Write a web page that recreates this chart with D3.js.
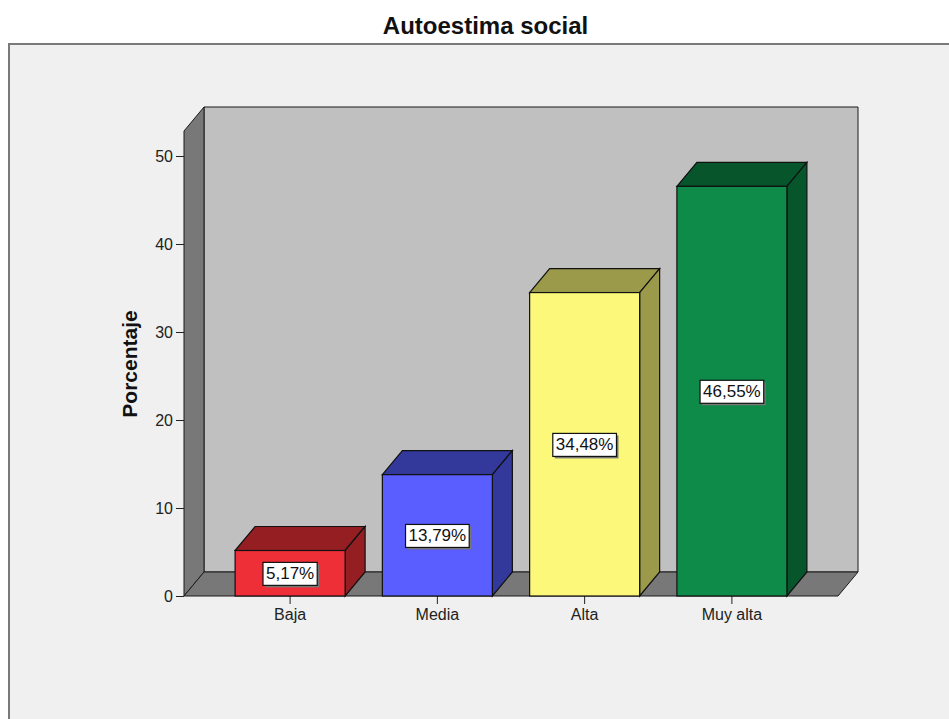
<!DOCTYPE html>
<html>
<head>
<meta charset="utf-8">
<script src="https://cdn.jsdelivr.net/npm/d3@7"></script>
<style>
html,body{margin:0;padding:0;background:#fff;}
svg{display:block;font-family:"Liberation Sans",Arial,sans-serif;}
</style>
</head>
<body>
<svg id="chart" width="949" height="719"></svg>
<script>
const categories = ["Baja", "Media", "Alta", "Muy alta"];
const values = [5.17, 13.79, 34.48, 46.55];
const valueLabels = ["5,17%", "13,79%", "34,48%", "46,55%"];
const frontColors = ["#ef2f38", "#5a5efe", "#fcf879", "#0e8b48"];
const sideColors = ["#951e23", "#33389b", "#9b994a", "#07562b"];
const yTicks = [0, 10, 20, 30, 40, 50];
const title = "Autoestima social";
const yTitle = "Porcentaje";

const svg = d3.select("#chart");
const W = 949, H = 719;
const dx = 20, dy = -24;

// panel
svg.append("rect").attr("x", 9).attr("y", 44).attr("width", W).attr("height", H)
  .attr("fill", "#f0f0f0");
svg.append("path").attr("d", `M9,${H} L9,44 L${W},44`).attr("fill", "none")
  .attr("stroke", "#7a7a7a").attr("stroke-width", 2);

svg.append("text").attr("x", 485.5).attr("y", 34).attr("text-anchor", "middle")
  .attr("font-weight", "bold").attr("font-size", 24).attr("fill", "#111").text(title);

const y = d3.scaleLinear().domain([0, 52.84]).range([596, 131]);
const x = d3.scaleBand().domain(categories).range([184, 838])
  .paddingInner(0.253).paddingOuter(0.347);

const x0 = x.range()[0], x1 = x.range()[1];
const yb = y(0), yt = y(y.domain()[1]);
const pts = a => a.map(p => p.join(",")).join(" ");

// back wall
svg.append("polygon").attr("points", pts([[x0+dx, yt+dy],[x1+dx, yt+dy],[x1+dx, yb+dy],[x0+dx, yb+dy]]))
  .attr("fill", "#c0c0c0").attr("stroke", "#1a1a1a").attr("stroke-width", 1);
// left wall
svg.append("polygon").attr("points", pts([[x0, yt],[x0+dx, yt+dy],[x0+dx, yb+dy],[x0, yb]]))
  .attr("fill", "#787878").attr("stroke", "#1a1a1a").attr("stroke-width", 1);
// floor
svg.append("polygon").attr("points", pts([[x0, yb],[x0+dx, yb+dy],[x1+dx, yb+dy],[x1, yb]]))
  .attr("fill", "#787878").attr("stroke", "#1a1a1a").attr("stroke-width", 1);

// y axis
const yAxis = d3.axisLeft(y).tickValues(yTicks).tickSize(8).tickPadding(3).tickFormat(d3.format("d"));
const ya = svg.append("g").attr("transform", `translate(${x0},0)`).call(yAxis);
ya.select(".domain").remove();
ya.selectAll("line").attr("stroke", "#222");
ya.selectAll("text").attr("font-size", 16).attr("fill", "#222").attr("font-family", "Liberation Sans, Arial, sans-serif");

// x axis
const xAxis = d3.axisBottom(x).tickSize(8).tickPadding(5);
const xa = svg.append("g").attr("transform", `translate(0,${yb})`).call(xAxis);
xa.select(".domain").remove();
xa.selectAll("line").attr("stroke", "#222");
xa.selectAll("text").attr("font-size", 16).attr("fill", "#222").attr("font-family", "Liberation Sans, Arial, sans-serif");

// y title
svg.append("text").attr("transform", `translate(137,364) rotate(-90)`)
  .attr("text-anchor", "middle").attr("font-weight", "bold").attr("font-size", 21)
  .attr("fill", "#111").text(yTitle);

// bars
const bars = svg.append("g").selectAll("g").data(categories).join("g");
bars.each(function(c, i) {
  const g = d3.select(this);
  const bx0 = x(c), bx1 = x(c) + x.bandwidth();
  const by = y(values[i]);
  g.append("polygon").attr("points", pts([[bx0, by],[bx0+dx, by+dy],[bx1+dx, by+dy],[bx1, by]]))
    .attr("fill", sideColors[i]).attr("stroke", "#111").attr("stroke-width", 1.2);
  g.append("polygon").attr("points", pts([[bx1, by],[bx1+dx, by+dy],[bx1+dx, yb+dy],[bx1, yb]]))
    .attr("fill", sideColors[i]).attr("stroke", "#111").attr("stroke-width", 1.2);
  g.append("rect").attr("x", bx0).attr("y", by).attr("width", bx1 - bx0).attr("height", yb - by)
    .attr("fill", frontColors[i]).attr("stroke", "#111").attr("stroke-width", 1.2);
  // label
  const cx = (bx0 + bx1) / 2, cy = y(values[i] / 2);
  const t = g.append("text").attr("x", cx).attr("y", cy).attr("dy", "0.36em")
    .attr("text-anchor", "middle").attr("font-size", 17).attr("fill", "#111").text(valueLabels[i]);
  const bb = t.node().getBBox();
  const padX = 3, padY = 2;
  g.insert("rect", "text").attr("x", bb.x - padX + 2).attr("y", bb.y - padY + 2)
    .attr("width", bb.width + 2*padX).attr("height", bb.height + 2*padY).attr("fill", "#777");
  g.insert("rect", "text").attr("x", bb.x - padX).attr("y", bb.y - padY)
    .attr("width", bb.width + 2*padX).attr("height", bb.height + 2*padY)
    .attr("fill", "#fff").attr("stroke", "#111").attr("stroke-width", 1.2);
});
</script>
</body>
</html>
